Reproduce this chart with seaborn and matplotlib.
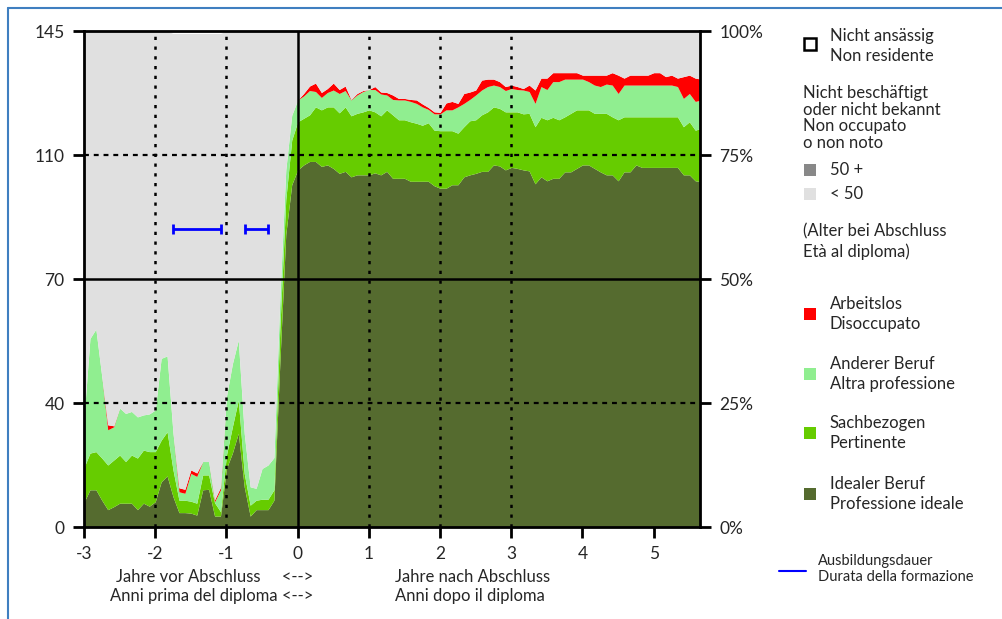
import matplotlib
matplotlib.use("Agg")
import matplotlib.pyplot as plt
from matplotlib.patches import Rectangle
from matplotlib.lines import Line2D
from matplotlib.transforms import blended_transform_factory
import numpy as np
import pandas as pd
import seaborn as sns

# months relative to the diploma (-36 .. 68)
months = list(range(-36, 69))

# shares in percent (bottom layer first)
ideal = [5.0, 7.5, 7.5, 5.4, 3.5, 4.1, 4.8, 4.8, 4.8, 3.5, 4.8, 4.2,
         5.1, 9.1, 10.3, 6.1, 2.9, 2.9, 2.8, 2.4, 7.5, 7.6, 2.2, 2.2,
         11.8, 14.9, 18.9, 8.1, 2.2, 3.5, 3.5, 3.5, 5.4, 33.0, 59.0, 69.0,
         72.0, 73.0, 73.7, 73.7, 72.7, 73.0, 72.3, 71.3, 71.7, 70.6, 71.0, 71.0,
         71.0, 71.4, 71.0, 71.7, 70.3, 70.3, 70.3, 69.7, 69.7, 69.7, 69.7, 68.8,
         68.3, 68.3, 69.0, 69.0, 70.6, 71.0, 71.3, 71.7, 71.7, 73.0, 72.8, 72.0,
         72.5, 72.3, 72.0, 71.8, 69.2, 70.6, 69.8, 70.3, 70.3, 71.6, 71.6, 72.3,
         73.0, 73.0, 72.3, 71.6, 71.0, 71.0, 69.8, 71.6, 71.6, 73.0, 72.5, 72.5,
         72.5, 72.5, 72.5, 72.5, 72.5, 71.0, 71.0, 69.8, 69.6]

sachbezogen = [7.0, 7.4, 7.7, 8.5, 9.0, 9.4, 9.7, 8.4, 9.7, 10.4, 10.7, 11.0,
               10.1, 8.4, 8.9, 5.4, 2.5, 2.5, 2.4, 2.4, 3.0, 2.9, 2.7, 0.9,
               2.7, 5.3, 6.7, 2.7, 2.2, 1.9, 2.1, 2.1, 2.1, 7.0, 7.0, 9.0,
               9.7, 9.4, 9.4, 11.0, 11.4, 11.7, 12.4, 12.2, 13.0, 12.3, 12.4, 12.7,
               13.1, 12.3, 11.9, 12.4, 12.8, 11.8, 11.8, 12.0, 11.7, 11.3, 11.8, 11.2,
               11.6, 11.6, 10.9, 10.4, 10.1, 10.9, 10.8, 11.4, 12.0, 11.7, 11.6, 11.7,
               11.2, 11.4, 11.3, 11.6, 11.5, 12.0, 12.3, 12.3, 11.8, 11.1, 11.8, 11.8,
               11.1, 11.1, 11.1, 11.8, 12.4, 11.7, 12.3, 11.1, 11.1, 9.7, 10.2, 10.2,
               10.2, 10.2, 10.2, 10.2, 10.2, 9.7, 10.7, 10.2, 10.8]

anderer = [10.0, 23.1, 24.7, 16.4, 7.1, 6.7, 9.5, 9.7, 8.8, 8.3, 7.1, 7.6,
           8.4, 16.5, 15.3, 7.4, 1.7, 1.4, 5.6, 5.4, 2.7, 2.7, 0.2, 4.4,
           11.8, 12.7, 12.1, 8.1, 3.7, 2.4, 6.2, 6.9, 6.5, 6.0, 6.0, 5.0,
           4.4, 4.5, 4.9, 3.1, 2.5, 2.9, 3.4, 3.9, 3.3, 3.2, 3.7, 4.1,
           4.1, 4.5, 4.4, 3.0, 3.1, 4.0, 4.0, 4.1, 4.0, 3.7, 2.7, 3.3,
           3.4, 4.2, 4.2, 5.3, 4.7, 4.3, 5.0, 5.0, 5.1, 4.4, 4.4, 4.3,
           4.7, 4.5, 4.8, 4.4, 4.7, 6.2, 6.1, 7.2, 7.7, 7.6, 6.9, 6.2,
           6.2, 5.7, 5.7, 5.4, 5.9, 6.4, 5.3, 6.4, 6.4, 6.4, 6.4, 6.4,
           6.4, 6.4, 6.4, 6.4, 6.1, 5.7, 5.7, 5.8, 5.7]

arbeitslos = [0, 0, 0, 0, 1.0, 0.2, 0, 0, 0, 0, 0, 0,
              0, 0, 0, 0, 0.8, 0.8, 0.7, 0.7, 0, 0, 0.4, 0.5,
              0, 0, 0, 0, 0, 0, 0, 0, 0, 0, 0, 0,
              0, 0.5, 0.9, 1.7, 1.0, 0.8, 1.4, 0.8, 0.9, 0.1, 0.3, 0.2,
              0, 0.6, 0.4, 0.5, 0.9, 0.3, 0.3, 0.4, 0.7, 0.6, 0.4, 0.4,
              0.3, 1.4, 1.7, 0.7, 2.0, 1.5, 1.0, 2.0, 1.5, 1.2, 1.0, 0.8,
              0.7, 0.6, 0.3, 1.3, 2.7, 1.7, 2.3, 1.8, 1.8, 1.3, 1.3, 1.3,
              0.8, 1.3, 2.0, 2.3, 1.8, 2.5, 3.7, 1.4, 2.0, 2.0, 2.0, 2.0,
              2.5, 2.5, 1.7, 2.0, 1.7, 4.4, 3.7, 4.7, 4.2]

# not employed 50+ (not visible) and non-resident share (thin white strip)
alter_50plus = [0.0] * 105
nicht_ansaessig = [0.0] * 15 + [0.5] * 9 + [0.0] * 81

# training duration bars
train_start = [-1.747, -0.74]
train_end = [-1.077, -0.41]
train_level = 60

left_ticks = [0, 25, 50, 75, 100]
left_labels = ["0", "40", "70", "110", "145"]
right_labels = ["0%", "25%", "50%", "75%", "100%"]
x_ticks = [-3, -2, -1, 0, 1, 2, 3, 4, 5]

colors = {
    "ideal": "#556b2f",
    "sach": "#66cc00",
    "andere": "#90ee90",
    "arbeit": "#ff0000",
    "over50": "#888888",
    "under50": "#e0e0e0",
}

sns.set_theme(style="white")
plt.rcParams["font.family"] = ["Lato", "DejaVu Sans"]

df = pd.DataFrame({
    "year": np.array(months) / 12,
    "ideal": ideal,
    "sach": sachbezogen,
    "andere": anderer,
    "arbeit": arbeitslos,
    "over50": alter_50plus,
    "nonres": nicht_ansaessig,
})
df["top"] = df[["ideal", "sach", "andere", "arbeit", "over50"]].sum(axis=1)

W, H = 1003, 619
fig = plt.figure(figsize=(W / 100, H / 100), dpi=100)
fx = lambda px: px / W
fy = lambda py: 1 - py / H

ax = fig.add_axes([fx(84), fy(527), fx(700) - fx(84), fy(31) - fy(527)])
ax.set_facecolor("white")

ax.stackplot(df["year"], df["ideal"], df["sach"], df["andere"], df["arbeit"], df["over50"],
             colors=[colors["ideal"], colors["sach"], colors["andere"], colors["arbeit"], colors["over50"]],
             linewidth=0, zorder=1)
ax.fill_between(df["year"], df["top"], 100 - df["nonres"], color=colors["under50"], linewidth=0, zorder=1)

# grid
for xv in [-2, -1, 1, 2, 3]:
    ax.axvline(xv, color="black", ls=(0, (1.3, 2.6)), lw=1.8, zorder=3)
for yv in [25, 75]:
    ax.axhline(yv, color="black", ls=(0, (2.2, 2.2)), lw=1.6, zorder=3)
ax.axvline(0, color="black", lw=1.8, zorder=3)
ax.axhline(50, color="black", lw=1.8, zorder=3)

# training duration
centers = [(a + b) / 2 for a, b in zip(train_start, train_end)]
halfs = [(b - a) / 2 for a, b in zip(train_start, train_end)]
ax.errorbar(centers, [train_level] * 2, xerr=halfs, fmt="none", ecolor="blue",
            elinewidth=2, capsize=3.6, capthick=2, zorder=4)

ax.set_xlim(-3, 5.65)
ax.set_ylim(0, 100)
ax.set_xticks(x_ticks)
ax.set_xticklabels([str(x) for x in x_ticks])
ax.set_yticks(left_ticks)
ax.set_yticklabels(left_labels)
for s in ax.spines.values():
    s.set_color("black")
    s.set_linewidth(2)
ax.tick_params(axis="both", direction="out", length=8, width=2, color="black",
               labelsize=12.5, pad=6, left=True, bottom=True)

ax2 = ax.twinx()
ax2.set_ylim(0, 100)
ax2.set_yticks(left_ticks)
ax2.set_yticklabels(right_labels)
ax2.tick_params(axis="y", direction="out", length=8, width=2, color="black",
                labelsize=12.5, pad=6, right=True)
for s in ax2.spines.values():
    s.set_visible(False)

# axis captions
tr = blended_transform_factory(ax.transData, fig.transFigure)
x_of = lambda px: (px - 297.7) / 71.2
ax.text(x_of(313), fy(577), "Jahre vor Abschluss     <-->", transform=tr, ha="right", va="center", fontsize=12)
ax.text(x_of(313), fy(596), "Anni prima del diploma <-->", transform=tr, ha="right", va="center", fontsize=12)
ax.text(x_of(395), fy(577), "Jahre nach Abschluss", transform=tr, ha="left", va="center", fontsize=12)
ax.text(x_of(395), fy(596), "Anni dopo il diploma", transform=tr, ha="left", va="center", fontsize=12)

# legend on the right
def square(py, face, edge=None):
    fig.patches.append(Rectangle((fx(804), fy(py + 6)), fx(12), 12 / H, transform=fig.transFigure,
                                 facecolor=face, edgecolor=edge if edge else face,
                                 linewidth=1.8 if edge else 0))

def label(px, py, txt, size=12, ls=1.3):
    fig.text(fx(px), fy(py), txt, ha="left", va="center", fontsize=size, linespacing=ls)

square(44, "white", "black")
label(830, 46, "Nicht ansässig\nNon residente")
label(803, 118, "Nicht beschäftigt\noder nicht bekannt\nNon occupato\no non noto", ls=1.05)
square(170, colors["over50"])
label(830, 170, "50 +")
square(194, colors["under50"])
label(830, 194, "< 50")
label(803, 242, "(Alter bei Abschluss\nEtà al diploma)")
for py, key, txt in [(314, "arbeit", "Arbeitslos\nDisoccupato"),
                     (374, "andere", "Anderer Beruf\nAltra professione"),
                     (433, "sach", "Sachbezogen\nPertinente"),
                     (494, "ideal", "Idealer Beruf\nProfessione ideale")]:
    square(py, colors[key])
    label(830, py, txt)

fig.add_artist(Line2D([fx(779), fx(806)], [fy(571), fy(571)], color="blue", lw=1.5))
label(818, 569, "Ausbildungsdauer\nDurata della formazione", size=10.5, ls=1.15)

# outer frame
fig.add_artist(Line2D([fx(8), fx(8)], [0, fy(8)], color="#3f7fc0", lw=1.5))
fig.add_artist(Line2D([fx(8), 1], [fy(8), fy(8)], color="#3f7fc0", lw=1.5))

fig.savefig("out.png", dpi=100)
